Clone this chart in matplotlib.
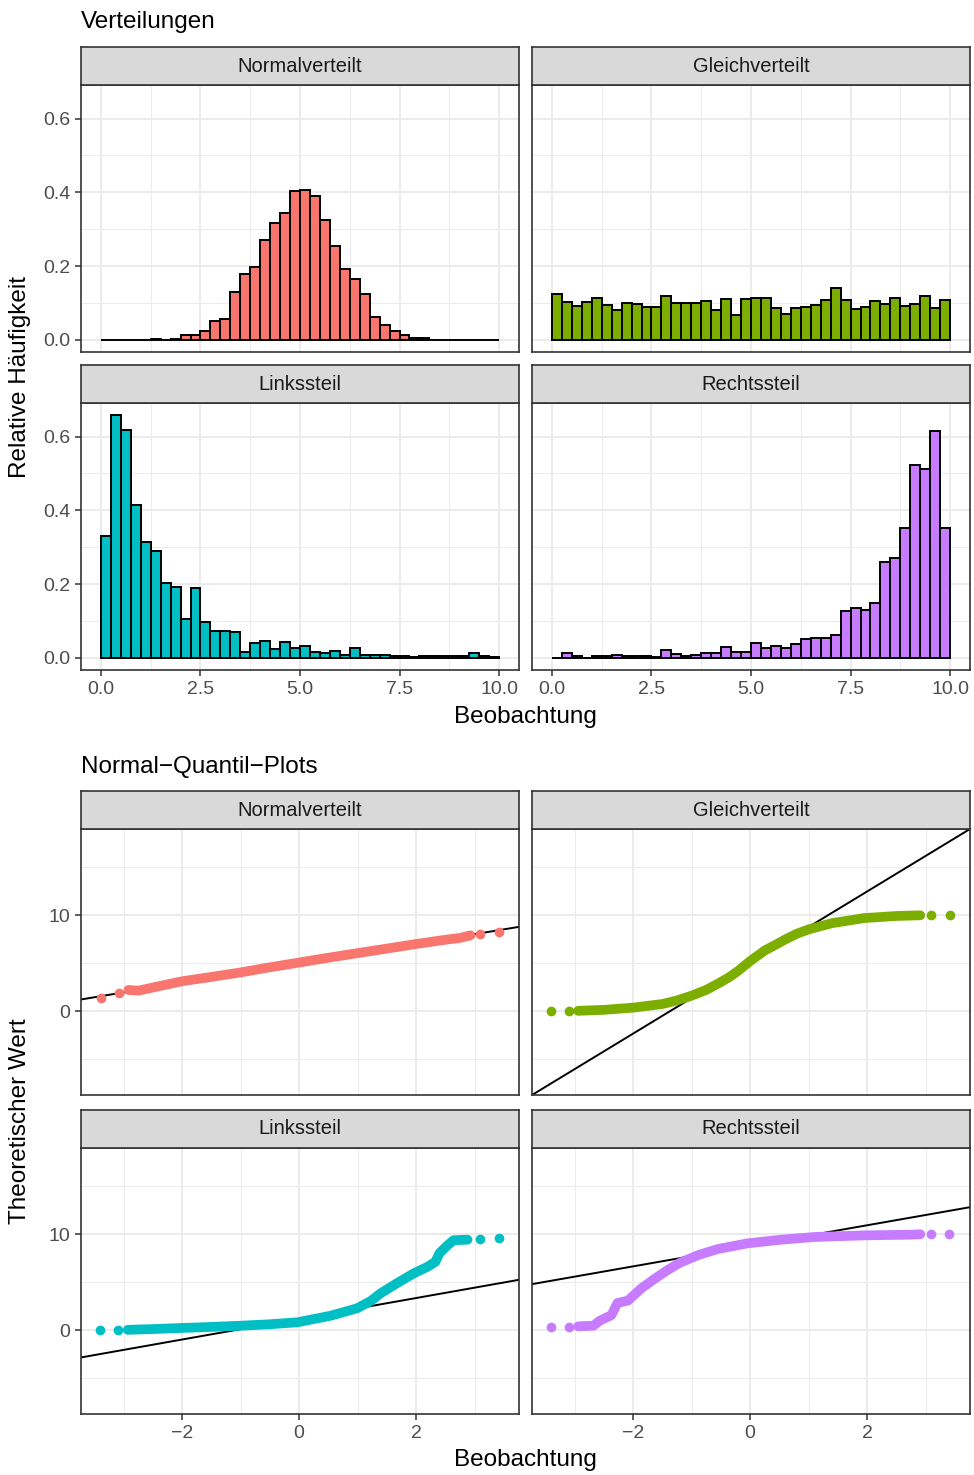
import numpy as np
import matplotlib
matplotlib.use("Agg")
import matplotlib.pyplot as plt

plt.rcParams['font.family'] = ['Liberation Sans', 'DejaVu Sans']

# --- data ---
panel_names = ["Normalverteilt", "Gleichverteilt", "Linkssteil", "Rechtssteil"]
panel_colors = ["#F8766D", "#7CAE00", "#00BFC4", "#C77CFF"]

bin_edges = np.linspace(0, 10, 41)

hist_normal = [0, 0, 0, 0, 0, 0.003, 0, 0.003, 0.012, 0.012,
               0.023, 0.052, 0.056, 0.130, 0.178, 0.197, 0.272, 0.316, 0.343, 0.403,
               0.405, 0.389, 0.326, 0.255, 0.193, 0.166, 0.123, 0.061, 0.040, 0.023,
               0.014, 0.006, 0.004, 0, 0, 0, 0, 0, 0, 0]
hist_gleich = [0.123, 0.103, 0.092, 0.103, 0.114, 0.094, 0.081, 0.099, 0.097, 0.090,
               0.090, 0.120, 0.100, 0.099, 0.099, 0.104, 0.081, 0.111, 0.066, 0.110,
               0.114, 0.114, 0.085, 0.070, 0.087, 0.090, 0.094, 0.109, 0.141, 0.108,
               0.084, 0.090, 0.105, 0.098, 0.114, 0.092, 0.096, 0.120, 0.085, 0.108]
hist_links = [0.330, 0.658, 0.618, 0.414, 0.313, 0.290, 0.203, 0.192, 0.105, 0.188,
              0.098, 0.073, 0.073, 0.071, 0.015, 0.041, 0.046, 0.024, 0.043, 0.026,
              0.031, 0.017, 0.012, 0.018, 0.009, 0.026, 0.009, 0.009, 0.009, 0.004,
              0.004, 0.002, 0.004, 0.006, 0.004, 0.004, 0.006, 0.012, 0.004, 0.002]
hist_rechts = [0, 0.012, 0.006, 0, 0.005, 0.005, 0.009, 0.004, 0.004, 0.004,
               0.001, 0.022, 0.011, 0.005, 0.009, 0.012, 0.012, 0.029, 0.017, 0.017,
               0.039, 0.027, 0.031, 0.027, 0.037, 0.051, 0.053, 0.055, 0.061, 0.128,
               0.134, 0.131, 0.150, 0.260, 0.271, 0.351, 0.523, 0.511, 0.615, 0.351]

# QQ curves (theoretical quantile, observed value), read along the point band
qq_normal_theo = [-3.39, -3.08, -2.92, -2.75, -2.50, -2.00, -1.50, -1.00, -0.50, 0.00,
                  0.50, 1.00, 1.50, 2.00, 2.50, 2.76, 2.93, 3.10, 3.41]
qq_normal_wert = [1.32, 1.91, 2.19, 2.12, 2.45, 3.10, 3.55, 4.02, 4.55, 5.05,
                  5.55, 6.03, 6.50, 6.98, 7.42, 7.62, 7.88, 7.99, 8.23]
qq_gleich_theo = [-3.41, -3.10, -2.94, -2.50, -2.00, -1.50, -1.25, -1.00, -0.75, -0.55,
                  -0.35, -0.20, 0.00, 0.25, 0.45, 0.60, 0.80, 1.00, 1.40, 1.95,
                  2.50, 2.91, 3.10, 3.41]
qq_gleich_wert = [0.0, 0.0, 0.02, 0.12, 0.35, 0.73, 1.10, 1.60, 2.20, 2.85,
                  3.55, 4.20, 5.20, 6.30, 6.95, 7.45, 8.05, 8.50, 9.15, 9.68,
                  9.90, 9.97, 10.0, 10.0]
qq_links_theo = [-3.40, -3.10, -2.93, -2.50, -2.02, -1.50, -0.99, -0.50, -0.03, 0.54,
                 0.99, 1.22, 1.40, 1.68, 1.96, 2.20, 2.33, 2.40, 2.53, 2.64,
                 2.88, 3.10, 3.41]
qq_links_wert = [0.0, 0.0, 0.02, 0.10, 0.21, 0.32, 0.45, 0.60, 0.80, 1.49,
                 2.26, 3.0, 3.85, 4.90, 5.90, 6.60, 7.10, 8.00, 8.78, 9.35,
                 9.41, 9.44, 9.55]
qq_rechts_theo = [-3.41, -3.10, -2.94, -2.68, -2.57, -2.37, -2.27, -2.09, -1.86, -1.63,
                  -1.41, -1.20, -0.89, -0.55, -0.04, 0.53, 1.10, 1.95, 2.74, 2.91,
                  3.09, 3.40]
qq_rechts_wert = [0.28, 0.28, 0.38, 0.45, 0.97, 1.56, 2.81, 3.06, 4.34, 5.35,
                  6.25, 7.01, 7.80, 8.44, 9.03, 9.41, 9.69, 9.86, 9.93, 9.97,
                  9.97, 9.97]

# qq reference lines: intercept, slope
qq_lines = [(4.97, 1.01), (5.05, 3.70), (1.17, 1.08), (8.77, 1.07)]

hists = [hist_normal, hist_gleich, hist_links, hist_rechts]
qqs = [(qq_normal_theo, qq_normal_wert), (qq_gleich_theo, qq_gleich_wert),
       (qq_links_theo, qq_links_wert), (qq_rechts_theo, qq_rechts_wert)]

# --- layout in pixels ---
W, H = 974, 1475
fig = plt.figure(figsize=(W / 100, H / 100), dpi=100)

def box(x0, y0, x1, y1):
    return [x0 / W, 1 - y1 / H, (x1 - x0) / W, (y1 - y0) / H]

cols = [(81, 519), (532, 970)]
grey20 = "#333333"
grid_col = "#EBEBEB"

def style_panel(ax, left, bottom):
    ax.set_facecolor("white")
    for s in ax.spines.values():
        s.set_color(grey20)
        s.set_linewidth(1.2)
        s.set_zorder(5)
    ax.grid(True, which="major", color=grid_col, lw=1.4)
    ax.grid(True, which="minor", color=grid_col, lw=0.7)
    ax.set_axisbelow(True)
    ax.tick_params(which="both", colors=grey20, length=4.4, width=1.1,
                   labelsize=14, labelcolor="#4D4D4D", pad=3.5)
    ax.tick_params(which="minor", length=0)
    ax.tick_params(left=left, labelleft=left, bottom=bottom, labelbottom=bottom)

def strip(x0, x1, y0, y1, label):
    s = fig.add_axes(box(x0, y0, x1, y1))
    s.set_facecolor("#D9D9D9")
    s.set_xticks([])
    s.set_yticks([])
    for sp in s.spines.values():
        sp.set_color(grey20)
        sp.set_linewidth(1.2)
    s.text(0.5, 0.5, label, ha="center", va="center", fontsize=14.5,
           color="#1A1A1A", transform=s.transAxes)

# --- top: histograms ---
hist_rows = [((47, 85), (85, 352)), ((365, 403), (403, 670))]
for i in range(4):
    r, c = divmod(i, 2)
    (sy0, sy1), (py0, py1) = hist_rows[r]
    x0, x1 = cols[c]
    ax = fig.add_axes(box(x0, py0, x1, py1))
    ax.bar(bin_edges[:-1], hists[i], width=np.diff(bin_edges), align="edge",
           color=panel_colors[i], edgecolor="black", linewidth=1.4, zorder=3)
    ax.set_xlim(-0.5, 10.5)
    ax.set_ylim(-0.033, 0.691)
    ax.set_xticks([0, 2.5, 5, 7.5, 10])
    ax.set_xticklabels(["0.0", "2.5", "5.0", "7.5", "10.0"])
    ax.set_xticks([1.25, 3.75, 6.25, 8.75], minor=True)
    ax.set_yticks([0, 0.2, 0.4, 0.6])
    ax.set_yticklabels(["0.0", "0.2", "0.4", "0.6"])
    ax.set_yticks([0.1, 0.3, 0.5], minor=True)
    style_panel(ax, left=(c == 0), bottom=(r == 1))
    strip(x0, x1, sy0, sy1, panel_names[i])

fig.text(81 / W, 1 - 28 / H, "Verteilungen", fontsize=17.5, ha="left", va="baseline")
fig.text(525 / W, 1 - 717 / H, "Beobachtung", fontsize=17.5, ha="center", va="center")
fig.text(20 / W, 1 - 377 / H, "Relative Häufigkeit", fontsize=17.5, rotation=90,
         ha="center", va="center")

# --- bottom: normal quantile plots ---
qq_rows = [((791, 829), (829, 1095)), ((1110, 1148), (1148, 1414))]
for i in range(4):
    r, c = divmod(i, 2)
    (sy0, sy1), (py0, py1) = qq_rows[r]
    x0, x1 = cols[c]
    ax = fig.add_axes(box(x0, py0, x1, py1))
    theo, wert = qqs[i]
    b, m = qq_lines[i]
    ax.axline((0, b), slope=m, color="black", lw=1.4, zorder=2)
    # dense band of points, then the isolated tail points
    ax.plot(theo[2:-2], wert[2:-2], color=panel_colors[i], lw=7.0,
            solid_capstyle="round", solid_joinstyle="round", zorder=3)
    tail = [0, 1, len(theo) - 2, len(theo) - 1]
    ax.plot([theo[k] for k in tail], [wert[k] for k in tail], "o",
            color=panel_colors[i], ms=7.0, mec="none", zorder=3)
    ax.set_xlim(-3.73, 3.76)
    ax.set_ylim(-8.75, 18.96)
    ax.set_xticks([-2, 0, 2])
    ax.set_xticks([-3, -1, 1, 3], minor=True)
    ax.set_yticks([0, 10])
    ax.set_yticks([-5, 5, 15], minor=True)
    style_panel(ax, left=(c == 0), bottom=(r == 1))
    strip(x0, x1, sy0, sy1, panel_names[i])

fig.text(81 / W, 1 - 773 / H, "Normal\u2212Quantil\u2212Plots", fontsize=17.5,
         ha="left", va="baseline")
fig.text(525 / W, 1 - 1460 / H, "Beobachtung", fontsize=17.5, ha="center", va="center")
fig.text(20 / W, 1 - 1121 / H, "Theoretischer Wert", fontsize=17.5, rotation=90,
         ha="center", va="center")

fig.savefig("out.png", dpi=100)
